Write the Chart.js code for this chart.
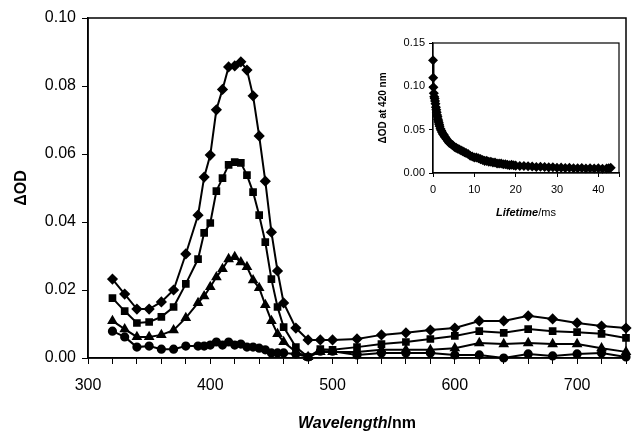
<!DOCTYPE html>
<html lang="en">
<head>
<meta charset="UTF-8">
<script src="https://cdn.jsdelivr.net/npm/chart.js@4"></script>
<title>Transient absorption</title>
<style>
  body { margin: 0; background: #fff; }
  #wrap { position: relative; width: 638px; height: 431px; }
  #mainChart { position: absolute; left: 0; top: 0; }
  #insetChart { position: absolute; left: 360px; top: 20px; }
</style>
</head>
<body>
<div id="wrap">
  <canvas id="mainChart" width="638" height="431"></canvas>
  <canvas id="insetChart" width="270" height="215"></canvas>
</div>

<script>
// main spectra
const wavelengths = [320, 330, 340, 350, 360, 370, 380, 390, 395, 400, 405, 410, 415, 420, 425, 430, 435, 440, 445, 450,
    455, 460, 470, 480, 490, 500, 520, 540, 560, 580, 600, 620, 640, 660, 680, 700, 720, 740];
const odDiamond = [0.0232, 0.0188, 0.0144, 0.0144, 0.0165, 0.0200, 0.0306, 0.0420, 0.0532, 0.0597, 0.0730, 0.0790, 0.0856, 0.0859,
    0.0871, 0.0847, 0.0771, 0.0653, 0.0520, 0.0370, 0.0256, 0.0162, 0.0088, 0.0053, 0.0053, 0.0053, 0.0056, 0.0068, 0.0074,
    0.0082, 0.0088, 0.0109, 0.0109, 0.0124, 0.0115, 0.0103, 0.0094, 0.0088];
const odSquare = [0.0176, 0.0138, 0.0103, 0.0106, 0.0121, 0.0150, 0.0218, 0.0291, 0.0368, 0.0397, 0.0491, 0.0529, 0.0568, 0.0576,
    0.0574, 0.0538, 0.0488, 0.0420, 0.0341, 0.0232, 0.0150, 0.0091, 0.0032, 0.0003, 0.0026, 0.0024, 0.0032, 0.0041, 0.0047,
    0.0056, 0.0065, 0.0079, 0.0074, 0.0085, 0.0079, 0.0076, 0.0071, 0.0059];
const odTriangle = [0.0109, 0.0085, 0.0062, 0.0062, 0.0068, 0.0082, 0.0118, 0.0162, 0.0182, 0.0209, 0.0238, 0.0262, 0.0291, 0.0297,
    0.0282, 0.0268, 0.0229, 0.0206, 0.0156, 0.0109, 0.0071, 0.0047, 0.0018, 0.0003, 0.0018, 0.0018, 0.0018, 0.0024, 0.0024,
    0.0024, 0.0029, 0.0044, 0.0041, 0.0044, 0.0041, 0.0041, 0.0029, 0.0018];
const odCircle = [0.0079, 0.0062, 0.0032, 0.0035, 0.0026, 0.0026, 0.0035, 0.0035, 0.0035, 0.0038, 0.0047, 0.0038, 0.0047, 0.0038,
    0.0041, 0.0032, 0.0032, 0.0029, 0.0024, 0.0015, 0.0015, 0.0015, 0.0012, 0.0003, 0.0020, 0.0020, 0.0009, 0.0015, 0.0015,
    0.0015, 0.0009, 0.0009, 0.0000, 0.0012, 0.0006, 0.0012, 0.0015, 0.0003];

// inset decay at 420 nm
const decayTime = [0, 0.05, 0.1, 0.2, 0.3, 0.4, 0.5, 0.6, 0.7, 0.8, 0.9, 1.0, 1.1, 1.2, 1.3, 1.4, 1.5, 1.6, 1.8, 2.0,
    2.2, 2.4, 2.6, 2.8, 3.0, 3.3, 3.6, 3.9, 4.2, 4.5, 4.8, 5.2, 5.6, 6.0, 6.4, 6.8, 7.2, 7.6, 8.0, 8.5,
    9.0, 9.5, 10, 10.5, 11, 11.5, 12, 12.5, 13, 13.5, 14, 14.5, 15, 15.5, 16, 16.5, 17, 17.5, 18, 18.5,
    19, 19.5, 20, 21, 22, 23, 24, 25, 26, 27, 28, 29, 30, 31, 32, 33, 34, 35, 36, 37,
    38, 39, 40, 41, 42, 42.5, 43];
const decayOD = [0.130, 0.110, 0.099, 0.092, 0.088, 0.086, 0.083, 0.080, 0.076, 0.073, 0.070, 0.067, 0.065, 0.062, 0.060, 0.058, 0.056, 0.054, 0.051, 0.049,
    0.047, 0.045, 0.044, 0.042, 0.041, 0.039, 0.037, 0.035, 0.034, 0.033, 0.032, 0.030, 0.029, 0.028, 0.027, 0.026, 0.025, 0.024, 0.023, 0.022,
    0.020, 0.019, 0.018, 0.018, 0.017, 0.016, 0.015, 0.014, 0.014, 0.013, 0.013, 0.012, 0.012, 0.011, 0.011, 0.011, 0.010, 0.010, 0.0095, 0.009,
    0.0095, 0.009, 0.0085, 0.008, 0.008, 0.0078, 0.0075, 0.007, 0.0072, 0.0068, 0.0065, 0.0066, 0.006, 0.0062, 0.0058, 0.006, 0.0056, 0.0055, 0.0057, 0.0053,
    0.0055, 0.0052, 0.0054, 0.005, 0.0052, 0.0055, 0.006];

const xy = (xs, ys) => xs.map((x, i) => ({ x: x, y: ys[i] }));

const series = (data, style, r) => ({
    data: xy(wavelengths, data),
    borderColor: '#000',
    backgroundColor: '#000',
    borderWidth: 2,
    pointStyle: style,
    pointRadius: r,
    pointHoverRadius: r,
    tension: 0,
    clip: false
});

// box around plot area
const boxPlugin = {
    id: 'box',
    afterDraw(chart) {
        const a = chart.chartArea, ctx = chart.ctx;
        ctx.save();
        ctx.strokeStyle = '#000';
        ctx.lineWidth = 1.5;
        ctx.strokeRect(a.left, a.top, a.right - a.left, a.bottom - a.top);
        ctx.restore();
    }
};

// axis titles with mixed italic / normal parts
function drawTitles(chart, o) {
    const a = chart.chartArea, ctx = chart.ctx;
    ctx.save();
    ctx.fillStyle = '#000';
    ctx.textBaseline = 'middle';
    ctx.font = o.boldItalic;
    const w1 = ctx.measureText(o.xName).width;
    ctx.font = o.unit;
    const w2 = ctx.measureText(o.xUnit).width;
    let x0 = (a.left + a.right) / 2 - (w1 + w2) / 2;
    ctx.textAlign = 'left';
    ctx.font = o.boldItalic;
    ctx.fillText(o.xName, x0, o.xY);
    ctx.font = o.unit;
    ctx.fillText(o.xUnit, x0 + w1, o.xY);
    ctx.translate(o.yX, (a.top + a.bottom) / 2);
    ctx.rotate(-Math.PI / 2);
    ctx.textAlign = 'center';
    ctx.font = o.bold;
    ctx.fillText(o.yName, 0, 0);
    ctx.restore();
}

const fontFam = '"Liberation Sans", Arial, sans-serif';

new Chart(document.getElementById('mainChart'), {
    type: 'line',
    data: {
        datasets: [
            series(odDiamond, 'rectRot', 4.2),
            series(odSquare, 'rect', 4),
            series(odTriangle, 'triangle', 4.2),
            series(odCircle, 'circle', 3.6)
        ]
    },
    options: {
        responsive: false,
        animation: false,
        events: [],
        layout: { padding: { top: 18, right: 2, left: 0, bottom: 0 } },
        plugins: { legend: { display: false }, tooltip: { enabled: false } },
        scales: {
            x: {
                type: 'linear',
                min: 300, max: 740,
                afterFit: s => { s.height = 73; },
                ticks: {
                    stepSize: 20, autoSkip: false, maxRotation: 0, padding: 12,
                    color: '#000', font: { family: fontFam, size: 16 },
                    callback: v => (v % 100 === 0 ? v : '')
                },
                grid: { drawOnChartArea: false, drawTicks: true, tickLength: 6, color: '#000', lineWidth: 1 },
                border: { display: true, color: '#000', width: 1.5 }
            },
            y: {
                min: 0, max: 0.1,
                afterFit: s => { s.width = 88; },
                ticks: {
                    stepSize: 0.02, padding: 6, color: '#000', font: { family: fontFam, size: 16 },
                    callback: v => v.toFixed(2)
                },
                grid: { drawOnChartArea: false, drawTicks: true, tickLength: 6, color: '#000', lineWidth: 1 },
                border: { display: true, color: '#000', width: 1.5 }
            }
        }
    },
    plugins: [boxPlugin, {
        id: 'titles',
        afterDraw: chart => drawTitles(chart, {
            boldItalic: 'italic bold 16px ' + fontFam, unit: 'bold 16px ' + fontFam, bold: 'bold 16px ' + fontFam,
            xName: 'Wavelength', xUnit: '/nm', xY: 424, yName: 'ΔOD', yX: 22
        })
    }]
});

new Chart(document.getElementById('insetChart'), {
    type: 'line',
    data: {
        datasets: [{
            data: xy(decayTime, decayOD),
            borderColor: '#000',
            backgroundColor: '#000',
            borderWidth: 2,
            pointStyle: 'rectRot',
            pointRadius: 3.6,
            tension: 0,
            clip: false
        }]
    },
    options: {
        responsive: false,
        animation: false,
        events: [],
        layout: { padding: { top: 23, right: 11, left: 0, bottom: 0 } },
        plugins: { legend: { display: false }, tooltip: { enabled: false } },
        scales: {
            x: {
                type: 'linear',
                min: 0, max: 45,
                afterFit: s => { s.height = 62; },
                ticks: {
                    stepSize: 10, autoSkip: false, maxRotation: 0, padding: 6,
                    color: '#000', font: { family: fontFam, size: 11 },
                    callback: v => (v % 10 === 0 ? v : '')
                },
                grid: { drawOnChartArea: false, drawTicks: true, tickLength: 4, color: '#000', lineWidth: 1 },
                border: { display: true, color: '#000', width: 1.2 }
            },
            y: {
                min: 0, max: 0.15,
                afterFit: s => { s.width = 73; },
                ticks: {
                    stepSize: 0.05, padding: 4, color: '#000', font: { family: fontFam, size: 11 },
                    callback: v => v.toFixed(2)
                },
                grid: { drawOnChartArea: false, drawTicks: true, tickLength: 4, color: '#000', lineWidth: 1 },
                border: { display: true, color: '#000', width: 1.2 }
            }
        }
    },
    plugins: [{
        id: 'insetBox',
        afterDraw(chart) {
            const a = chart.chartArea, ctx = chart.ctx;
            ctx.save();
            ctx.strokeStyle = '#000';
            ctx.lineWidth = 1.2;
            ctx.strokeRect(a.left, a.top, a.right - a.left, a.bottom - a.top);
            ctx.restore();
        }
    }, {
        id: 'insetTitles',
        afterDraw: chart => drawTitles(chart, {
            boldItalic: 'italic bold 11px ' + fontFam, unit: '11px ' + fontFam, bold: 'bold 10px ' + fontFam,
            xName: 'Lifetime', xUnit: '/ms', xY: 193, yName: 'ΔOD at 420 nm', yX: 23
        })
    }]
});
</script>
</body>
</html>
